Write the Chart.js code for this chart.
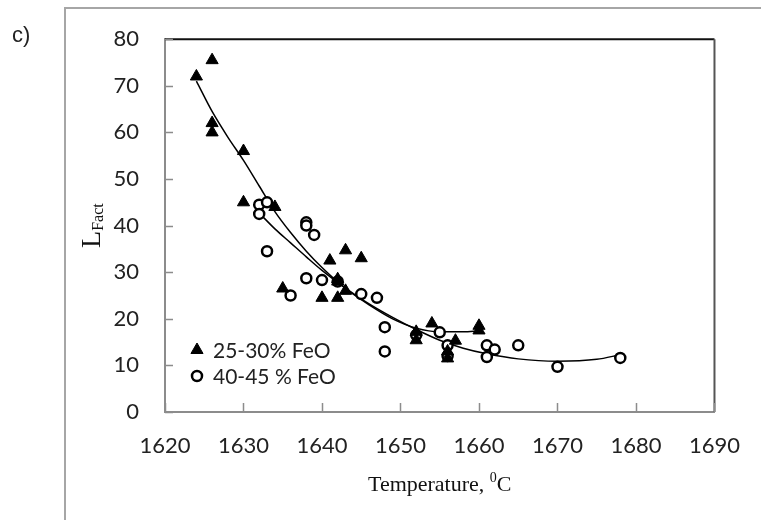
<!DOCTYPE html>
<html>
<head>
<meta charset="utf-8">
<script src="https://cdn.jsdelivr.net/npm/chart.js@4.4.1/dist/chart.umd.min.js"></script>
<style>
  html, body { margin: 0; padding: 0; background: #fff; }
</style>
</head>
<body>
<canvas id="lfactChart" width="761" height="520"></canvas>
<script>
// 25-30% FeO (triangles)
const triTemp = [1624, 1626, 1626, 1626, 1630, 1630, 1634, 1635, 1640, 1641, 1642, 1642, 1642, 1643, 1643, 1645, 1652, 1652, 1654, 1656, 1656, 1657, 1660, 1660];
const triL = [72, 75.5, 62, 60, 56, 45, 44, 26.5, 24.5, 32.5, 28.5, 28, 24.5, 34.7, 26, 33, 17.2, 15.4, 19, 13, 11.5, 15.3, 18.5, 17.5];

// 40-45 % FeO (open circles)
const circTemp = [1632, 1633, 1632, 1633, 1636, 1638, 1638, 1638, 1639, 1640, 1642, 1645, 1647, 1648, 1648, 1652, 1655, 1656, 1656, 1661, 1661, 1662, 1665, 1670, 1678];
const circL = [44.5, 45, 42.5, 34.5, 25, 40.7, 40, 28.7, 38, 28.3, 28, 25.3, 24.5, 18.2, 13, 16.5, 17.1, 14.3, 12, 14.3, 11.8, 13.4, 14.3, 9.7, 11.6];

// trend lines
const triTrendT = [1624, 1626, 1628, 1630, 1632, 1634, 1636, 1638, 1640, 1643, 1646, 1649, 1652, 1655, 1658, 1660];
const triTrendL = [71, 64.5, 59, 54, 48.5, 43, 38.5, 34.5, 31, 26.5, 23, 20, 18, 17.2, 17.2, 17.4];
const circTrendT = [1632, 1634, 1636, 1638, 1640, 1643, 1646, 1649, 1652, 1655, 1658, 1661, 1665, 1670, 1675, 1678];
const circTrendL = [42.7, 39.3, 36.3, 33.3, 30.4, 26.6, 23.2, 20.3, 17.7, 15.4, 13.7, 12.5, 11.4, 10.9, 11.3, 12.3];

const seriesNames = ['25-30% FeO', '40-45 % FeO'];
const xTicks = [1620, 1630, 1640, 1650, 1660, 1670, 1680, 1690];
const yTicks = [0, 10, 20, 30, 40, 50, 60, 70, 80];

const toPoints = (xs, ys) => xs.map((x, i) => ({x: x, y: ys[i]}));

const axisGray = '#8c8c8c';
const tickFont = {family: 'Lato', size: 22};

const extras = {
    id: 'extras',
    beforeDraw(chart) {
        const c = chart.ctx;
        c.save();
        c.fillStyle = '#fff';
        c.fillRect(0, 0, chart.width, chart.height);
        // outer frame of the figure panel
        c.strokeStyle = '#a6a6a6';
        c.lineWidth = 2;
        c.beginPath();
        c.moveTo(65, chart.height + 5);
        c.lineTo(65, 8);
        c.lineTo(chart.width + 5, 8);
        c.stroke();
        c.fillStyle = '#222';
        c.font = '22px "Liberation Sans"';
        c.textBaseline = 'middle';
        c.fillText('c)', 12, 36);
        c.restore();
    },
    afterDraw(chart) {
        const c = chart.ctx;
        const a = chart.chartArea;
        const xs = chart.scales.x, ys = chart.scales.y;
        c.save();
        // top and right frame of the plot area
        c.lineWidth = 2;
        c.strokeStyle = '#111';
        c.beginPath();
        c.moveTo(a.left, a.top);
        c.lineTo(a.right, a.top);
        c.stroke();
        c.strokeStyle = '#555';
        c.beginPath();
        c.moveTo(a.right, a.top);
        c.lineTo(a.right, a.bottom);
        c.stroke();
        // inside tick marks
        c.strokeStyle = axisGray;
        c.lineWidth = 1.5;
        c.beginPath();
        xTicks.forEach(v => {
            const px = Math.round(xs.getPixelForValue(v)) + 0.5;
            c.moveTo(px, a.bottom);
            c.lineTo(px, a.bottom - 9);
        });
        yTicks.forEach(v => {
            const py = Math.round(ys.getPixelForValue(v)) + 0.5;
            c.moveTo(a.left, py);
            c.lineTo(a.left + 8, py);
        });
        c.stroke();

        // legend inside the plot
        c.font = '21px Lato';
        c.textBaseline = 'middle';
        [0, 1].forEach(i => {
            const ds = chart.data.datasets[i];
            const lx = a.left + 32, ly = a.bottom - 62 + i * 26;
            c.fillStyle = ds.backgroundColor;
            c.strokeStyle = ds.borderColor;
            c.lineWidth = ds.borderWidth;
            Chart.helpers.drawPoint(c, {pointStyle: ds.pointStyle, radius: ds.pointRadius, rotation: 0, borderWidth: ds.borderWidth}, lx, ly);
            c.fillStyle = '#222';
            c.fillText(ds.label, lx + 16, ly + 1);
        });

        // axis titles
        c.fillStyle = '#111';
        c.textBaseline = 'alphabetic';
        const cx = (a.left + a.right) / 2;
        c.font = '22px "Liberation Serif"';
        const t1 = 'Temperature, ';
        const w1 = c.measureText(t1).width;
        c.font = '14px "Liberation Serif"';
        const w2 = c.measureText('0').width;
        c.font = '22px "Liberation Serif"';
        const w3 = c.measureText('C').width;
        const tx = cx - (w1 + w2 + w3) / 2;
        const tb = 491;
        c.fillText(t1, tx, tb);
        c.font = '14px "Liberation Serif"';
        c.fillText('0', tx + w1, tb - 9);
        c.font = '22px "Liberation Serif"';
        c.fillText('C', tx + w1 + w2, tb);

        const cy = (a.top + a.bottom) / 2;
        c.font = '28px "Liberation Serif"';
        const wl = c.measureText('L').width;
        c.font = '16px "Liberation Serif"';
        const wf = c.measureText('Fact').width;
        c.translate(100, cy + (wl + wf) / 2);
        c.rotate(-Math.PI / 2);
        c.font = '28px "Liberation Serif"';
        c.fillText('L', 0, 0);
        c.font = '16px "Liberation Serif"';
        c.fillText('Fact', wl, 3);
        c.restore();
    }
};

new Chart(document.getElementById('lfactChart'), {
    type: 'scatter',
    data: {
        datasets: [
            {
                label: seriesNames[0],
                data: toPoints(triTemp, triL),
                pointStyle: 'triangle',
                pointRadius: 7,
                backgroundColor: '#000',
                borderColor: '#000',
                borderWidth: 1
            },
            {
                label: seriesNames[1],
                data: toPoints(circTemp, circL),
                pointStyle: 'circle',
                pointRadius: 5,
                backgroundColor: '#fff',
                borderColor: '#000',
                borderWidth: 2.5
            },
            {
                type: 'line',
                label: 'trend 25-30',
                data: toPoints(triTrendT, triTrendL),
                borderColor: '#000',
                borderWidth: 1.5,
                pointRadius: 0,
                cubicInterpolationMode: 'monotone',
                fill: false
            },
            {
                type: 'line',
                label: 'trend 40-45',
                data: toPoints(circTrendT, circTrendL),
                borderColor: '#000',
                borderWidth: 1.5,
                pointRadius: 0,
                cubicInterpolationMode: 'monotone',
                fill: false
            }
        ]
    },
    options: {
        responsive: false,
        animation: false,
        events: [],
        layout: {padding: {left: 0, right: 30, top: 37, bottom: 0}},
        plugins: {legend: {display: false}, tooltip: {enabled: false}},
        scales: {
            x: {
                type: 'linear',
                min: 1620,
                max: 1690,
                afterFit: s => { s.height = 108; },
                afterBuildTicks: s => { s.ticks = xTicks.map(v => ({value: v})); },
                grid: {display: false, drawTicks: false},
                border: {display: true, color: axisGray, width: 2},
                ticks: {font: tickFont, color: '#222', padding: 21, maxRotation: 0, callback: v => String(v)}
            },
            y: {
                type: 'linear',
                min: 0,
                max: 80,
                afterFit: s => { s.width = 165; },
                afterBuildTicks: s => { s.ticks = yTicks.map(v => ({value: v})); },
                grid: {display: false, drawTicks: false},
                border: {display: true, color: axisGray, width: 2},
                ticks: {font: tickFont, color: '#222', padding: 26, callback: v => String(v)}
            }
        }
    },
    plugins: [extras]
});
</script>
</body>
</html>
